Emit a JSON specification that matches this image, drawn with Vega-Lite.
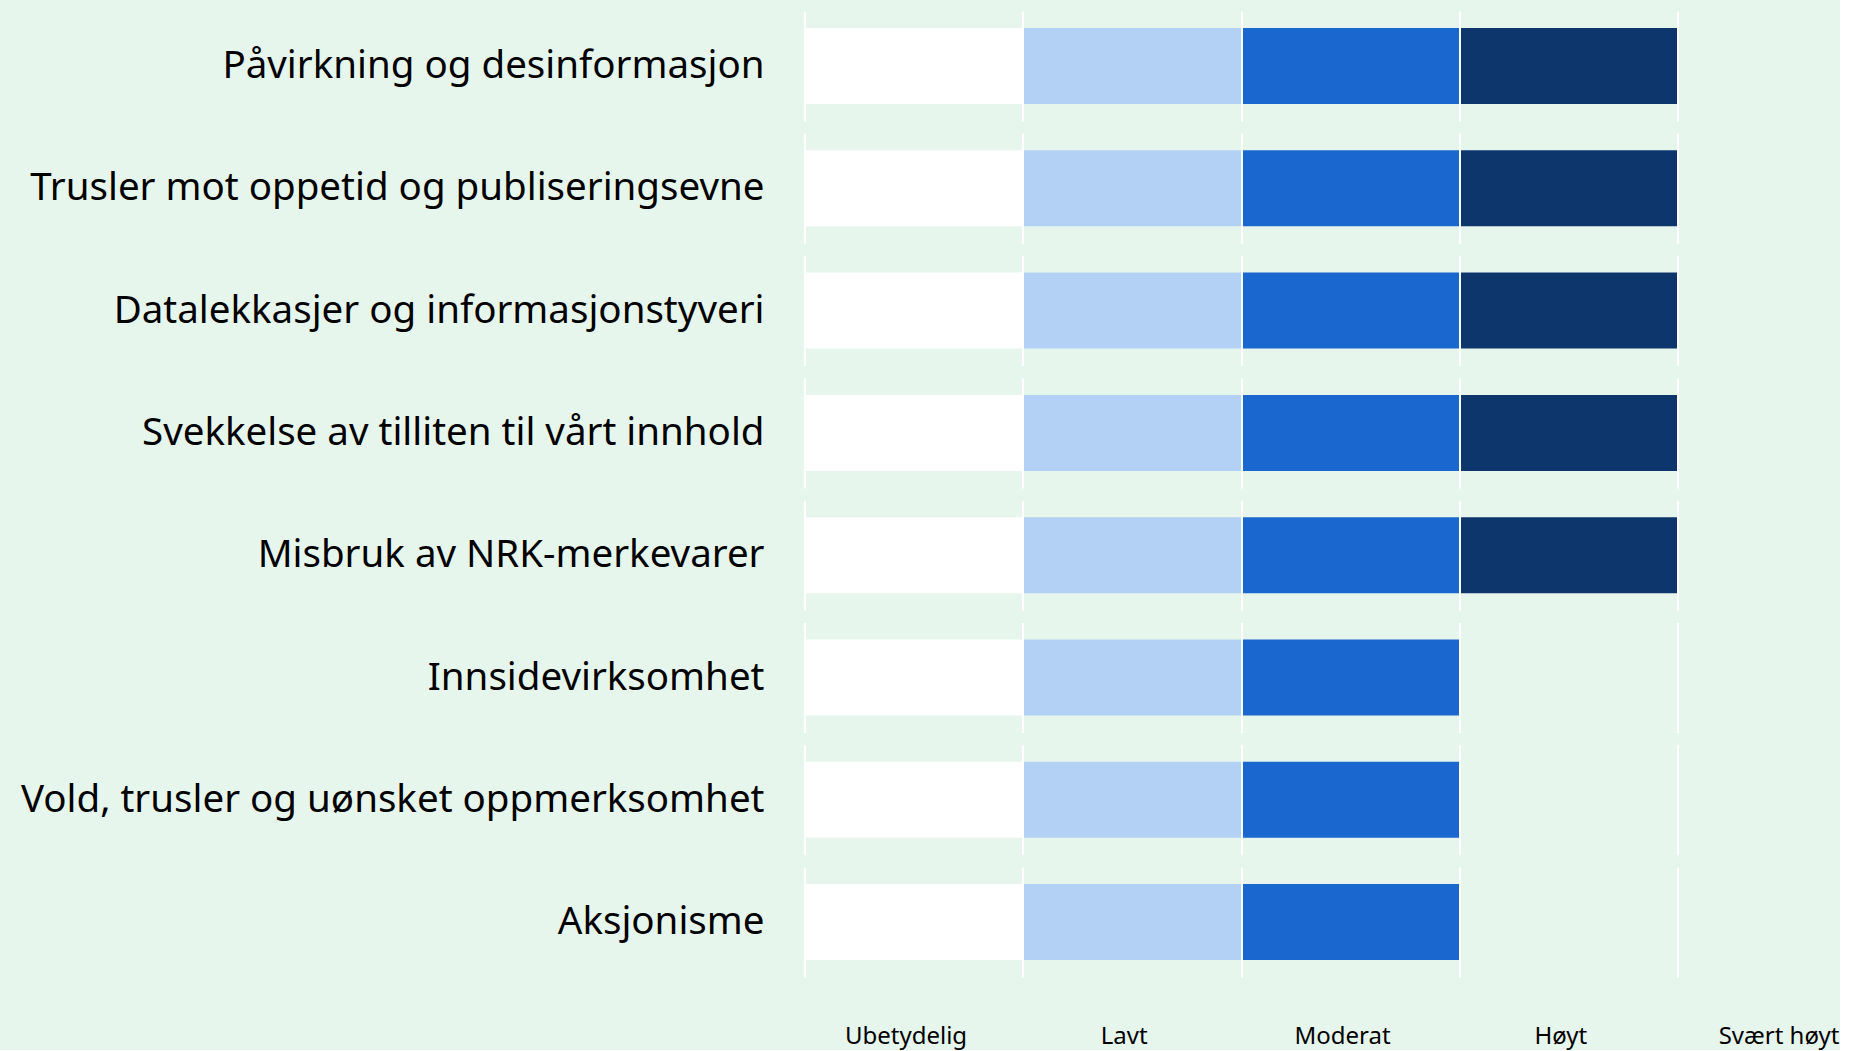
{
  "$schema": "https://vega.github.io/schema/vega-lite/v6.json",
  "background": "#E7F6EC",
  "padding": {"left": 20.5, "top": 11, "right": 0, "bottom": 2},
  "data": {
    "values": [
      {"tema": "Påvirkning og desinformasjon", "nivaa": "Ubetydelig", "fra": 0, "til": 1},
      {"tema": "Påvirkning og desinformasjon", "nivaa": "Lavt", "fra": 1, "til": 2},
      {"tema": "Påvirkning og desinformasjon", "nivaa": "Moderat", "fra": 2, "til": 3},
      {"tema": "Påvirkning og desinformasjon", "nivaa": "Høyt", "fra": 3, "til": 4},
      {"tema": "Trusler mot oppetid og publiseringsevne", "nivaa": "Ubetydelig", "fra": 0, "til": 1},
      {"tema": "Trusler mot oppetid og publiseringsevne", "nivaa": "Lavt", "fra": 1, "til": 2},
      {"tema": "Trusler mot oppetid og publiseringsevne", "nivaa": "Moderat", "fra": 2, "til": 3},
      {"tema": "Trusler mot oppetid og publiseringsevne", "nivaa": "Høyt", "fra": 3, "til": 4},
      {"tema": "Datalekkasjer og informasjonstyveri", "nivaa": "Ubetydelig", "fra": 0, "til": 1},
      {"tema": "Datalekkasjer og informasjonstyveri", "nivaa": "Lavt", "fra": 1, "til": 2},
      {"tema": "Datalekkasjer og informasjonstyveri", "nivaa": "Moderat", "fra": 2, "til": 3},
      {"tema": "Datalekkasjer og informasjonstyveri", "nivaa": "Høyt", "fra": 3, "til": 4},
      {"tema": "Svekkelse av tilliten til vårt innhold", "nivaa": "Ubetydelig", "fra": 0, "til": 1},
      {"tema": "Svekkelse av tilliten til vårt innhold", "nivaa": "Lavt", "fra": 1, "til": 2},
      {"tema": "Svekkelse av tilliten til vårt innhold", "nivaa": "Moderat", "fra": 2, "til": 3},
      {"tema": "Svekkelse av tilliten til vårt innhold", "nivaa": "Høyt", "fra": 3, "til": 4},
      {"tema": "Misbruk av NRK-merkevarer", "nivaa": "Ubetydelig", "fra": 0, "til": 1},
      {"tema": "Misbruk av NRK-merkevarer", "nivaa": "Lavt", "fra": 1, "til": 2},
      {"tema": "Misbruk av NRK-merkevarer", "nivaa": "Moderat", "fra": 2, "til": 3},
      {"tema": "Misbruk av NRK-merkevarer", "nivaa": "Høyt", "fra": 3, "til": 4},
      {"tema": "Innsidevirksomhet", "nivaa": "Ubetydelig", "fra": 0, "til": 1},
      {"tema": "Innsidevirksomhet", "nivaa": "Lavt", "fra": 1, "til": 2},
      {"tema": "Innsidevirksomhet", "nivaa": "Moderat", "fra": 2, "til": 3},
      {"tema": "Vold, trusler og uønsket oppmerksomhet", "nivaa": "Ubetydelig", "fra": 0, "til": 1},
      {"tema": "Vold, trusler og uønsket oppmerksomhet", "nivaa": "Lavt", "fra": 1, "til": 2},
      {"tema": "Vold, trusler og uønsket oppmerksomhet", "nivaa": "Moderat", "fra": 2, "til": 3},
      {"tema": "Aksjonisme", "nivaa": "Ubetydelig", "fra": 0, "til": 1},
      {"tema": "Aksjonisme", "nivaa": "Lavt", "fra": 1, "til": 2},
      {"tema": "Aksjonisme", "nivaa": "Moderat", "fra": 2, "til": 3}
    ]
  },
  "facet": {
    "row": {
      "field": "tema",
      "type": "nominal",
      "sort": ["Påvirkning og desinformasjon", "Trusler mot oppetid og publiseringsevne", "Datalekkasjer og informasjonstyveri", "Svekkelse av tilliten til vårt innhold", "Misbruk av NRK-merkevarer", "Innsidevirksomhet", "Vold, trusler og uønsket oppmerksomhet", "Aksjonisme"],
      "header": {
        "title": null,
        "labelOrient": "left",
        "labelAngle": 0,
        "labelAlign": "left",
        "labelBaseline": "middle",
        "labelFont": "Noto Sans",
        "labelFontSize": 38.5,
        "labelColor": "#000000",
        "labelPadding": 40,
        "labelLimit": 0
      }
    }
  },
  "spacing": 12.3,
  "spec": {
    "width": 873,
    "height": 110,
    "mark": {"type": "bar"},
    "encoding": {
      "y": {"field": "tema", "type": "nominal", "axis": null, "scale": {"paddingInner": 0, "paddingOuter": 0.2237}},
      "x": {
        "field": "fra",
        "type": "quantitative",
        "scale": {"domain": [0, 4], "nice": false, "zero": false},
        "axis": {
          "title": null,
          "values": [0, 1, 2, 3, 4],
          "labelExpr": "['Ubetydelig','Lavt','Moderat','Høyt','Svært høyt'][datum.value]",
          "labelOffset": 101,
          "ticks": false,
          "domain": false,
          "grid": true,
          "gridColor": "#FFFFFF",
          "gridWidth": 2,
          "gridOpacity": 1,
          "zindex": 1,
          "labelFont": "Noto Sans",
          "labelFontSize": 24,
          "labelColor": "#000000",
          "labelPadding": 46,
          "labelFlush": false,
          "labelOverlap": false,
          "labelBound": false
        }
      },
      "x2": {"field": "til"},
      "color": {
        "field": "nivaa",
        "type": "nominal",
        "scale": {"domain": ["Ubetydelig", "Lavt", "Moderat", "Høyt"], "range": ["#FFFFFF", "#B3D1F5", "#1967CF", "#0D366C"]},
        "legend": null
      }
    }
  },
  "resolve": {"scale": {"y": "independent"}},
  "config": {"view": {"stroke": null}}
}
